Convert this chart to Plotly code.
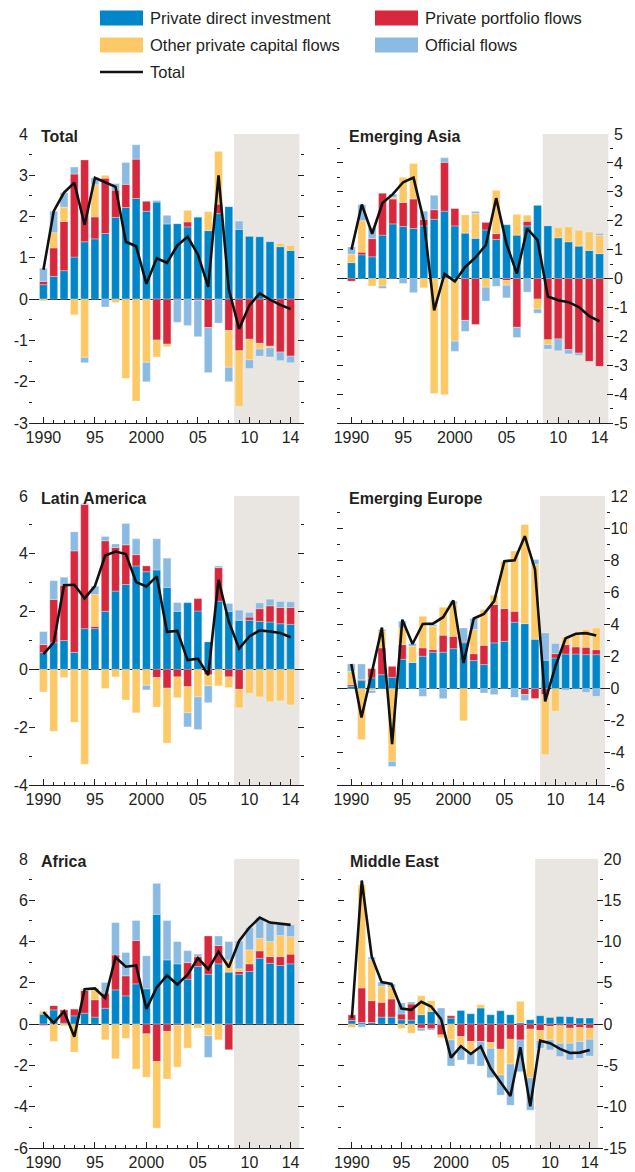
import plotly.graph_objects as go

years = list(range(1990, 2015))

# ---------------- data (percent of GDP) ----------------
total_di = [0.35, 0.55, 0.69, 1.02, 1.39, 1.46, 1.59, 1.98, 2.22, 2.44, 2.13, 2.35, 1.82, 1.83, 1.75, 1.99, 1.66, 2.07, 2.24, 1.69, 1.52, 1.51, 1.39, 1.27, 1.18]
total_pp = [0.08, 0.69, 1.19, 2.01, 1.98, 0.53, 1.34, 0.66, 0.56, 0.95, 0.24, -0.99, -1.09, -0.02, 0.12, -0.03, -0.69, 0.23, -0.76, -1.25, -0.97, -1.07, -1.14, -1.28, -1.38]
total_op = [-0.04, 0.37, 0.35, -0.38, -1.41, 0.78, 0.07, -0.08, -1.92, -2.47, -1.53, -0.41, -0.06, 0.0, 0.28, 0.0, 0.46, 1.28, -0.89, -1.35, -0.5, -0.14, -0.04, 0.08, 0.12]
total_of = [0.32, 0.52, 0.35, 0.17, -0.13, 0.17, -0.19, 0.16, 0.53, 0.35, -0.47, 0.04, 0.21, -0.54, -0.64, -0.88, -1.09, -0.58, -0.35, 0.2, -0.21, -0.17, -0.22, -0.21, -0.16]
total_tot = [0.71, 2.13, 2.58, 2.82, 1.8, 2.94, 2.83, 2.72, 1.39, 1.28, 0.37, 0.99, 0.88, 1.3, 1.51, 1.08, 0.3, 3.0, 0.24, -0.72, -0.15, 0.14, -0.01, -0.14, -0.24]

asia_di = [0.55, 0.82, 0.75, 1.5, 1.89, 1.8, 1.73, 1.82, 2.05, 2.33, 1.82, 1.57, 1.39, 1.68, 1.35, 1.86, 1.5, 1.82, 2.53, 1.82, 1.41, 1.27, 1.12, 0.97, 0.86]
asia_pp = [-0.09, 0.09, 0.63, 1.45, 0.86, 0.83, 1.02, 0.23, 0.33, 1.69, 0.6, -1.45, -1.59, 0.26, 0.2, -0.07, -1.69, 0.16, -0.71, -2.12, -2.09, -2.46, -2.58, -2.87, -3.04]
asia_op = [0.29, 1.09, -0.26, -0.26, 0.05, 0.87, 1.23, -0.32, -3.98, -4.02, -2.17, 0.63, 0.86, -0.3, 1.5, -0.16, 0.72, 0.21, -0.35, -0.17, 0.35, 0.52, 0.55, 0.64, 0.64]
asia_of = [0.25, 0.56, 0.38, -0.08, 0.12, -0.17, -0.49, 0.28, 0.5, 0.16, -0.35, -0.38, 0.07, -0.48, -0.27, -0.44, -0.35, -0.47, -0.14, -0.15, -0.41, -0.15, -0.08, -0.03, 0.06]
asia_tot = [1.0, 2.56, 1.55, 2.61, 2.92, 3.33, 3.49, 2.0, -1.1, 0.16, -0.1, 0.4, 0.73, 1.16, 2.78, 1.19, 0.17, 1.73, 1.33, -0.62, -0.75, -0.82, -0.99, -1.3, -1.48]

latam_di = [0.58, 0.92, 1.0, 0.59, 1.41, 1.41, 2.01, 2.71, 2.94, 3.58, 3.38, 3.44, 2.84, 2.01, 2.31, 2.02, 0.95, 2.36, 2.01, 1.7, 1.7, 1.66, 1.64, 1.58, 1.56]
latam_pp = [0.28, 1.5, 1.91, 3.51, 4.3, 0.08, 2.44, 1.51, 1.37, 0.39, 0.2, -0.28, -0.65, -0.26, -0.6, 0.43, -0.19, 1.16, -0.26, -0.69, 0.11, 0.44, 0.56, 0.56, 0.58]
latam_op = [-0.78, -2.14, -0.28, -1.83, -3.28, 1.1, -0.66, -0.26, -1.06, -1.5, -0.55, -1.02, -1.9, -0.72, -0.9, -0.95, -0.38, -0.57, -0.37, -0.64, -0.83, -0.95, -1.12, -1.09, -1.23]
latam_of = [0.45, 0.65, 0.28, 0.66, 0.03, 0.29, 0.15, 0.12, 0.74, 0.55, -0.16, 1.08, 1.01, 0.3, -0.49, -1.13, -0.58, 0.06, 0.27, 0.35, 0.16, 0.2, 0.23, 0.21, 0.2]
latam_tot = [0.53, 0.93, 2.91, 2.93, 2.46, 2.88, 3.94, 4.08, 3.99, 3.02, 2.87, 3.22, 1.3, 1.33, 0.32, 0.37, -0.2, 3.1, 1.65, 0.72, 1.14, 1.35, 1.31, 1.26, 1.11]

europe_di = [0.15, 0.5, 0.67, 0.87, 0.71, 1.83, 1.64, 2.02, 2.27, 2.27, 2.49, 2.85, 1.75, 1.5, 2.85, 2.95, 4.14, 4.05, 3.08, 1.77, 1.91, 2.16, 2.16, 2.12, 2.12]
europe_pp = [0.1, 0.06, 0.58, 1.67, 0.68, 0.91, 0.0, 0.52, 0.16, 1.06, 0.77, 0.06, 0.43, 1.2, 2.39, 2.04, 0.68, -0.37, -0.62, -0.37, 0.27, 0.58, 0.44, 0.46, 0.31]
europe_op = [0.83, -3.18, -0.12, 1.04, -4.53, 1.04, 1.0, 1.97, 1.46, 1.74, 2.02, -2.0, 1.5, 2.23, 0.58, 2.95, 3.75, 6.18, 4.65, -3.74, -1.41, 0.48, 0.87, 1.1, 1.35]
europe_of = [0.46, 0.98, -0.15, 0.1, -0.31, 0.42, 0.17, -0.48, 0.1, -0.62, 0.17, 0.87, 0.69, -0.27, -0.37, 0.0, -0.54, -0.37, 0.32, 1.7, 0.63, -0.1, 0.0, -0.23, -0.48]
europe_tot = [1.54, -1.8, 0.98, 3.8, -3.45, 4.3, 2.78, 4.03, 4.05, 4.45, 5.5, 1.6, 4.37, 4.66, 5.45, 7.94, 8.0, 9.5, 7.43, -0.8, 1.4, 3.14, 3.42, 3.46, 3.31]

africa_di = [0.48, 0.69, 0.05, 0.4, 0.53, 0.34, 0.77, 1.66, 1.37, 1.95, 1.71, 5.32, 3.11, 2.92, 2.18, 2.79, 2.42, 2.92, 2.52, 2.42, 2.55, 3.19, 2.95, 2.84, 2.92]
africa_pp = [-0.06, 0.21, 0.65, 0.34, 1.1, 0.84, 0.73, 1.69, 0.97, 2.1, -0.47, -1.81, -0.35, -0.06, 0.8, 0.48, 1.85, 0.89, -1.24, 0.13, 0.37, 0.36, 0.32, 0.43, 0.47]
africa_op = [0.16, -0.84, -0.08, -1.35, 0.0, 0.48, -0.76, -1.68, -0.69, -2.18, -2.1, -3.23, -2.31, -2.02, -1.16, -0.19, -0.56, -0.76, 0.59, 0.13, 0.68, 0.61, 0.73, 1.02, 0.85]
africa_of = [0.0, 0.0, 0.0, 0.0, 0.06, 0.07, 0.52, 1.57, 1.13, 0.97, 1.6, 1.5, 1.91, 1.08, 0.58, 0.12, -1.05, 0.46, 0.89, 1.35, 1.08, 1.0, 0.92, 0.56, 0.57]
africa_tot = [0.58, 0.06, 0.62, -0.61, 1.69, 1.73, 1.26, 3.24, 2.78, 2.84, 0.74, 1.78, 2.36, 1.92, 2.4, 3.2, 2.66, 3.51, 2.76, 4.03, 4.68, 5.16, 4.92, 4.85, 4.81]

mideast_di = [0.45, 0.2, 0.2, 0.85, 0.85, 0.53, 0.49, 1.14, 1.54, 0.0, 0.73, 1.66, 1.26, 1.95, 1.14, 1.62, 1.14, 0.2, 0.53, 1.01, 0.81, 0.93, 0.89, 0.73, 0.73]
mideast_pp = [0.69, 4.18, 2.64, 1.79, 2.19, 0.69, 1.94, -0.49, -0.57, -1.3, 0.28, -1.5, -2.11, -2.11, -2.23, -3.04, -1.83, -1.91, -0.61, -0.77, -0.28, -0.2, -0.49, -0.41, -0.49]
mideast_op = [-0.41, 12.46, 4.99, 1.94, 1.42, -0.53, -1.1, 2.31, 1.3, -0.32, -1.91, -1.22, -1.22, 0.4, -0.69, -3.12, -3.0, 2.56, -5.88, -1.22, -1.62, -2.11, -1.83, -1.7, -1.34]
mideast_of = [0.0, -0.37, 0.28, 0.49, 0.41, 1.34, 0.25, -0.32, -0.16, 1.95, -3.16, -1.62, -1.54, -2.96, -3.57, -2.43, -4.99, -3.85, -3.94, -0.9, -1.22, -1.62, -2.03, -2.03, -2.03]
mideast_tot = [0.73, 17.4, 8.2, 5.1, 4.87, 1.9, 1.74, 2.7, 2.13, 0.6, -4.06, -2.68, -3.61, -2.7, -5.35, -6.97, -8.7, -2.8, -9.95, -2.0, -2.31, -3.0, -3.5, -3.45, -3.13]

panel_titles = ["Total", "Emerging Asia", "Latin America", "Emerging Europe", "Africa", "Middle East"]
series_names = ["Private direct investment", "Private portfolio flows", "Other private capital flows", "Official flows"]
total_name = "Total"

x_tickvals = [1990, 1995, 2000, 2005, 2010, 2014]
x_ticktext = ["1990", "95", "2000", "05", "10", "14"]

y_ranges = [(-3, 4, 1), (-5, 5, 1), (-4, 6, 2), (-6, 12, 2), (-6, 8, 2), (-15, 20, 5)]
forecast_start, forecast_end = 2008.5, 2014.85

panels = [
    (total_di, total_pp, total_op, total_of, total_tot),
    (asia_di, asia_pp, asia_op, asia_of, asia_tot),
    (latam_di, latam_pp, latam_op, latam_of, latam_tot),
    (europe_di, europe_pp, europe_op, europe_of, europe_tot),
    (africa_di, africa_pp, africa_op, africa_of, africa_tot),
    (mideast_di, mideast_pp, mideast_op, mideast_of, mideast_tot),
]

# ---------------- styling / layout ----------------
OFF = 8                      # default page margin of the html body
W, H = 635 - OFF, 1172 - OFF
colors = ["#0086C9", "#D7283D", "#FDC966", "#8BBBE2"]
shade = "#E9E6E1"
ink = "#231F20"
FONT = "Liberation Sans, Arial, sans-serif"

row_px = [(134, 423), (496, 785), (859, 1148)]
panel_xpx = [(29, 304), (337, 613), (29, 304), (337, 609.5), (29, 304), (338, 602.6)]


def fx(p):
    return (p - OFF) / W


def fy(p):
    return 1 - (p - OFF) / H


fig = go.Figure()

for i, (vals, title, (ylo, yhi, ystep)) in enumerate(zip(panels, panel_titles, y_ranges)):
    r, c = divmod(i, 2)
    n = i + 1
    xa = "x" if n == 1 else f"x{n}"
    ya = "y" if n == 1 else f"y{n}"
    for k in range(4):
        fig.add_trace(go.Bar(
            x=years, y=vals[k], name=series_names[k], marker_color=colors[k],
            marker_line=dict(width=0.5, color="rgba(255,255,255,0.6)"),
            xaxis=xa, yaxis=ya, showlegend=False, hoverinfo="skip"))
    fig.add_trace(go.Scatter(
        x=years, y=vals[4], name=total_name, mode="lines",
        line=dict(color="#111111", width=2.6), xaxis=xa, yaxis=ya,
        showlegend=False, hoverinfo="skip"))

    top, bot = row_px[r]
    left, right = panel_xpx[i]
    xdom = [fx(left), fx(right)]
    ydom = [fy(bot), fy(top)]
    major = list(range(ylo, yhi + 1, ystep))
    minor = [ylo + (j + 0.5) * ystep for j in range(len(major) - 1)]
    fig.update_layout(**{
        ("xaxis" if n == 1 else f"xaxis{n}"): dict(
            domain=xdom, anchor=ya, range=[1988.6, 2015.3], automargin=False,
            tickmode="array", tickvals=x_tickvals, ticktext=x_ticktext,
            ticks="inside", ticklen=6, tickcolor=ink, tickwidth=1,
            minor=dict(tickvals=years, ticks="inside", ticklen=3, tickcolor=ink, tickwidth=1),
            showline=True, linecolor=ink, linewidth=1.2, showgrid=False, zeroline=False,
            tickfont=dict(family=FONT, size=16, color=ink), fixedrange=True),
        ("yaxis" if n == 1 else f"yaxis{n}"): dict(
            domain=ydom, anchor=xa, range=[ylo, yhi], side="left" if c == 0 else "right",
            automargin=False,
            tickmode="array", tickvals=major, ticktext=[str(v) for v in major],
            ticks="inside", ticklen=6, tickcolor=ink, tickwidth=1, mirror="ticks",
            minor=dict(tickvals=minor, ticks="inside", ticklen=3, tickcolor=ink, tickwidth=1),
            showline=False, showgrid=False, zeroline=True, zerolinecolor=ink, zerolinewidth=1,
            layer="above traces",
            tickfont=dict(family=FONT, size=16, color=ink), fixedrange=True),
    })
    fig.add_shape(type="rect", xref=xa, yref=f"{ya} domain", x0=forecast_start, x1=forecast_end,
                  y0=0, y1=1, fillcolor=shade, line_width=0, layer="below")
    fig.add_annotation(text=f"<b>{title}</b>", xref=f"{xa} domain", yref=f"{ya} domain",
                       x=0, y=1, xanchor="left", yanchor="middle", xshift=10, yshift=-2,
                       showarrow=False, font=dict(family=FONT, size=16, color=ink))

# ---------------- legend (drawn) ----------------
legend_items = [
    (series_names[0], colors[0], 100, 18, "box"),
    (series_names[1], colors[1], 375, 18, "box"),
    (series_names[2], colors[2], 100, 45, "box"),
    (series_names[3], colors[3], 375, 45, "box"),
    (total_name, "#111111", 100, 72, "line"),
]
for name, col, px, py, kind in legend_items:
    if kind == "box":
        fig.add_shape(type="rect", xref="paper", yref="paper",
                      x0=fx(px), x1=fx(px + 43), y0=fy(py + 7.5), y1=fy(py - 7.5),
                      fillcolor=col, line_width=0)
    else:
        fig.add_shape(type="line", xref="paper", yref="paper",
                      x0=fx(px), x1=fx(px + 43), y0=fy(py), y1=fy(py),
                      line=dict(color=col, width=2.6))
    fig.add_annotation(text=name, xref="paper", yref="paper", x=fx(px + 48), y=fy(py),
                       xanchor="left", yanchor="middle", showarrow=False,
                       font=dict(family=FONT, size=16.5, color=ink))

fig.update_layout(
    width=W, height=H, margin=dict(l=0, r=0, t=0, b=0, autoexpand=False),
    paper_bgcolor="white", plot_bgcolor="rgba(0,0,0,0)",
    barmode="relative", bargap=0.24, showlegend=False,
    font=dict(family=FONT, size=16, color=ink),
)

fig.write_html("out.html")
